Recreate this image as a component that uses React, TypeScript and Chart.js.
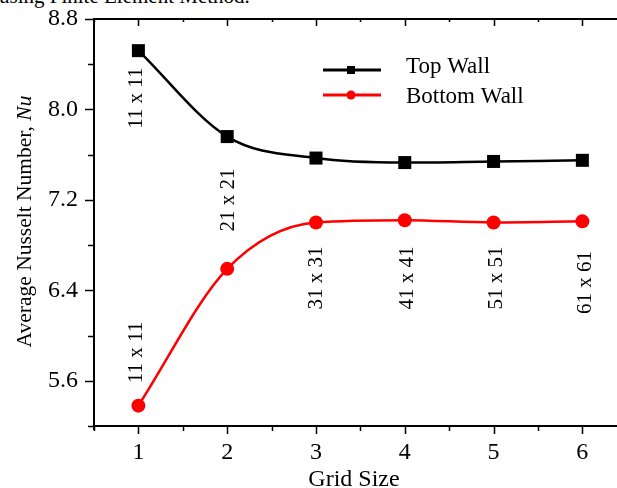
import React, { useEffect, useRef } from 'react';
import { Chart, registerables } from 'chart.js';

Chart.register(...registerables);

const gridSizes = [1, 2, 3, 4, 5, 6];
const topWall = [8.52, 7.76, 7.57, 7.53, 7.54, 7.55];
const bottomWall = [5.38, 6.59, 7.0, 7.02, 7.0, 7.01];
const seriesNames = ['Top Wall', 'Bottom Wall'];
const seriesColors = ['#000000', '#ff0000'];
const yTickLabels = [5.6, 6.4, 7.2, 8.0, 8.8];
const xTickLabels = [1, 2, 3, 4, 5, 6];
const meshLabels = ['11 x 11', '21 x 21', '11 x 11', '31 x 31', '41 x 41', '51 x 51', '61 x 61'];
const meshLabelX = [0.98, 2.02, 0.98, 3.01, 4.03, 5.03, 6.03];
const meshLabelY = [8.1, 7.2, 5.85, 6.51, 6.51, 6.51, 6.47];
const caption = 'using Finite Element Method.';
const xTitle = 'Grid Size';
const yTitle = 'Average Nusselt Number, ';
const yTitleItalic = 'Nu';

const FONT = "'Liberation Serif', 'Times New Roman', serif";

const overlay = {
  id: 'overlay',
  afterDraw(chart: any) {
    const ctx = chart.ctx;
    const xs = chart.scales.x;
    const ys = chart.scales.y;
    const { left, top, bottom } = chart.chartArea;
    ctx.save();
    ctx.strokeStyle = '#000';
    ctx.lineWidth = 2;
    // axes
    ctx.beginPath();
    ctx.moveTo(left, top);
    ctx.lineTo(left, bottom + 4);
    ctx.moveTo(left - 1, bottom);
    ctx.lineTo(chart.width, bottom);
    ctx.moveTo(left - 1, top);
    ctx.lineTo(chart.width, top);
    ctx.stroke();
    // y ticks
    ctx.lineWidth = 1.5;
    ctx.beginPath();
    for (let i = 0; i <= 9; i++) {
      const v = 5.2 + 0.4 * i;
      const major = yTickLabels.some((t) => Math.abs(t - v) < 1e-6);
      const py = Math.round(ys.getPixelForValue(v)) + 0.5;
      ctx.moveTo(left, py);
      ctx.lineTo(left - (major ? 9 : 6), py);
    }
    // x ticks bottom and top
    for (let i = 0; i <= 12; i++) {
      const v = 0.5 + 0.5 * i;
      const major = xTickLabels.some((t) => Math.abs(t - v) < 1e-6);
      const px = Math.round(xs.getPixelForValue(v)) + 0.5;
      if (px > chart.width) continue;
      ctx.moveTo(px, bottom);
      ctx.lineTo(px, bottom + (major ? 8 : 5));
      ctx.moveTo(px, top);
      ctx.lineTo(px, top + (major ? 7 : 3));
    }
    ctx.stroke();

    ctx.fillStyle = '#000';
    // x title
    ctx.font = `24px ${FONT}`;
    ctx.textAlign = 'center';
    ctx.textBaseline = 'alphabetic';
    ctx.fillText(xTitle, 354, 486);

    // y title (rotated, mixed italic)
    ctx.save();
    ctx.translate(25, (top + bottom) / 2 - 1);
    ctx.rotate(-Math.PI / 2);
    ctx.font = `21.5px ${FONT}`;
    const w1 = ctx.measureText(yTitle).width;
    ctx.font = `italic 21.5px ${FONT}`;
    const w2 = ctx.measureText(yTitleItalic).width;
    const start = -(w1 + w2) / 2;
    ctx.textAlign = 'left';
    ctx.textBaseline = 'middle';
    ctx.font = `21.5px ${FONT}`;
    ctx.fillText(yTitle, start, 0);
    ctx.font = `italic 21.5px ${FONT}`;
    ctx.fillText(yTitleItalic, start + w1, 0);
    ctx.restore();

    // mesh labels
    ctx.font = `21px ${FONT}`;
    meshLabels.forEach((lab, i) => {
      ctx.save();
      ctx.translate(xs.getPixelForValue(meshLabelX[i]), ys.getPixelForValue(meshLabelY[i]));
      ctx.rotate(-Math.PI / 2);
      ctx.textAlign = 'center';
      ctx.textBaseline = 'middle';
      ctx.fillText(lab, 0, 0);
      ctx.restore();
    });

    // legend
    const rows = [70, 95];
    const textBase = [73, 103];
    seriesNames.forEach((name, i) => {
      const y = rows[i];
      ctx.strokeStyle = seriesColors[i];
      ctx.fillStyle = seriesColors[i];
      ctx.lineWidth = 3;
      ctx.beginPath();
      ctx.moveTo(323, y);
      ctx.lineTo(381, y);
      ctx.stroke();
      ctx.beginPath();
      if (i === 0) {
        ctx.rect(351 - 4, y - 4, 8, 8);
      } else {
        ctx.arc(351, y, 4.5, 0, Math.PI * 2);
      }
      ctx.fill();
      ctx.fillStyle = '#000';
      ctx.font = `23px ${FONT}`;
      ctx.textAlign = 'left';
      ctx.textBaseline = 'alphabetic';
      ctx.fillText(name, 406, textBase[i]);
    });
    ctx.restore();
  },
};

export default function App() {
  const ref = useRef<HTMLCanvasElement | null>(null);
  useEffect(() => {
    if (!ref.current) return;
    const chart = new Chart(ref.current, {
      type: 'line',
      data: {
        datasets: [
          {
            label: seriesNames[0],
            data: gridSizes.map((x, i) => ({ x, y: topWall[i] })),
            borderColor: seriesColors[0],
            backgroundColor: seriesColors[0],
            borderWidth: 2.5,
            pointStyle: 'rect',
            pointRadius: 9.2,
            pointBorderWidth: 0,
            cubicInterpolationMode: 'monotone',
            tension: 0.4,
          },
          {
            label: seriesNames[1],
            data: gridSizes.map((x, i) => ({ x, y: bottomWall[i] })),
            borderColor: seriesColors[1],
            backgroundColor: seriesColors[1],
            borderWidth: 2.5,
            pointStyle: 'circle',
            pointRadius: 7,
            pointBorderWidth: 0,
            cubicInterpolationMode: 'monotone',
            tension: 0.4,
          },
        ],
      },
      options: {
        responsive: false,
        animation: false,
        devicePixelRatio: 1,
        layout: { autoPadding: false, padding: { top: 19, right: 0, left: 0, bottom: 0 } },
        plugins: { legend: { display: false }, tooltip: { enabled: false } },
        scales: {
          x: {
            type: 'linear',
            min: 0.5,
            max: 6.39,
            afterFit: (s: any) => {
              s.height = 62;
              s.paddingLeft = 0;
              s.paddingRight = 0;
              s.paddingTop = 0;
              s.paddingBottom = 0;
            },
            grid: { display: false, drawTicks: false },
            border: { display: false },
            ticks: {
              stepSize: 0.5,
              includeBounds: false,
              autoSkip: false,
              maxRotation: 0,
              padding: 12,
              color: '#000',
              font: { family: FONT, size: 24 },
              callback: (v: any) =>
                xTickLabels.some((t) => Math.abs(t - Number(v)) < 1e-6) ? String(Math.round(Number(v))) : '',
            },
          },
          y: {
            type: 'linear',
            min: 5.2,
            max: 8.8,
            afterFit: (s: any) => {
              s.width = 94;
              s.paddingLeft = 0;
              s.paddingRight = 0;
              s.paddingTop = 0;
              s.paddingBottom = 0;
            },
            grid: { display: false, drawTicks: false },
            border: { display: false },
            ticks: {
              stepSize: 0.4,
              autoSkip: false,
              padding: 16,
              color: '#000',
              font: { family: FONT, size: 24 },
              callback: (v: any) =>
                yTickLabels.some((t) => Math.abs(t - Number(v)) < 1e-6) ? Number(v).toFixed(1) : '',
            },
          },
        },
      },
      plugins: [overlay],
    });
    return () => chart.destroy();
  }, []);

  return (
    <div style={{ position: 'absolute', left: 0, top: 0, width: 617, height: 488, overflow: 'hidden', background: '#fff' }}>
      <div
        style={{
          position: 'absolute',
          left: -1,
          top: -14,
          fontFamily: FONT,
          fontSize: 21,
          lineHeight: '21px',
          whiteSpace: 'nowrap',
          color: '#000',
        }}
      >
        {caption}
      </div>
      <canvas ref={ref} width={617} height={488} style={{ position: 'absolute', left: 0, top: 0 }} />
    </div>
  );
}
